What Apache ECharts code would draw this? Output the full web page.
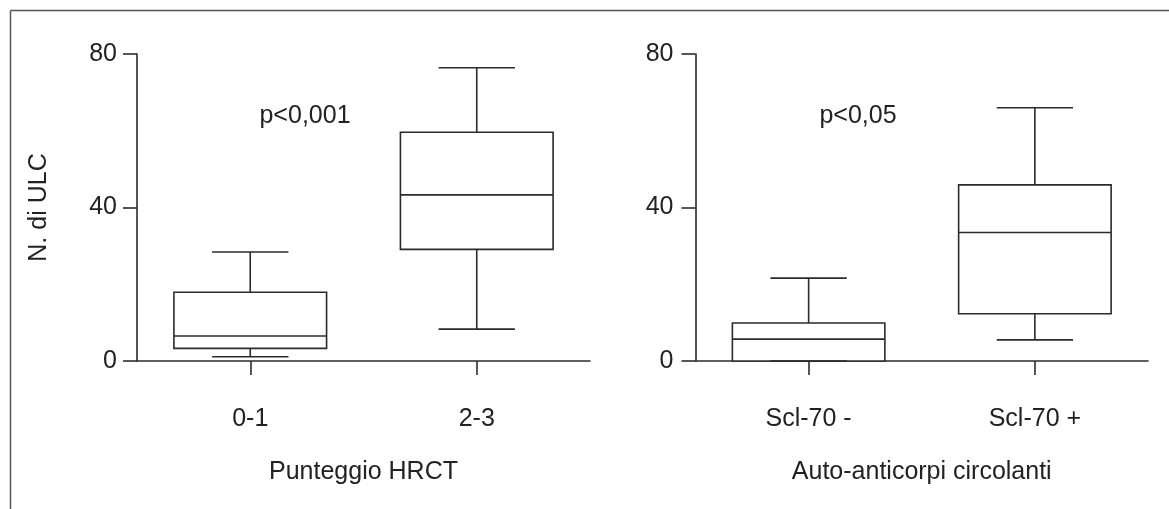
<!DOCTYPE html>
<html>
<head>
<meta charset="utf-8">
<script src="https://cdn.jsdelivr.net/npm/echarts@6/dist/echarts.min.js"></script>
<style>
html,body{margin:0;padding:0;background:#fff;}
#c{width:1169px;height:509px;}
</style>
</head>
<body>
<div id="c"></div>
<script>
// Left panel: Punteggio HRCT
const catsA = ['0-1', '2-3'];
const minA = [1.1, 8.3];
const q1A = [3.3, 29.1];
const medA = [6.5, 43.3];
const q3A = [17.9, 59.6];
const maxA = [28.4, 76.4];

// Right panel: Auto-anticorpi circolanti
const catsB = ['Scl-70 -', 'Scl-70 +'];
const minB = [0, 5.5];
const q1B = [0, 12.3];
const medB = [5.7, 33.5];
const q3B = [9.9, 45.9];
const maxB = [21.6, 66.0];

const yTicks = [0, 40, 80];
const yAxisName = 'N. di ULC';
const xNames = ['Punteggio HRCT', 'Auto-anticorpi circolanti'];
const pLabels = ['p<0,001', 'p<0,05'];

const INK = '#2b2b2b';
const FONT = 'Liberation Sans, Arial, Helvetica, sans-serif';
const FS = 25;

function rows(mn, q1, md, q3, mx) {
  return mn.map((v, i) => [i, mn[i], q1[i], md[i], q3[i], mx[i]]);
}

function renderBox(params, api) {
  const xi = api.value(0);
  const pMin = api.coord([xi, api.value(1)]);
  const pQ1 = api.coord([xi, api.value(2)]);
  const pMed = api.coord([xi, api.value(3)]);
  const pQ3 = api.coord([xi, api.value(4)]);
  const pMax = api.coord([xi, api.value(5)]);
  const band = api.size([1, 0])[0];
  const bw = band * 0.674;
  const cw = bw / 2;
  const cx = pMed[0];
  const st = { stroke: INK, lineWidth: 1.6, fill: null };
  return {
    type: 'group',
    children: [
      { type: 'rect', shape: { x: cx - bw / 2, y: pQ3[1], width: bw, height: pQ1[1] - pQ3[1] }, style: { stroke: INK, lineWidth: 1.6, fill: '#fff' } },
      { type: 'line', shape: { x1: cx - bw / 2, y1: pMed[1], x2: cx + bw / 2, y2: pMed[1] }, style: st },
      { type: 'line', shape: { x1: cx, y1: pQ3[1], x2: cx, y2: pMax[1] }, style: st },
      { type: 'line', shape: { x1: cx, y1: pQ1[1], x2: cx, y2: pMin[1] }, style: st },
      { type: 'line', shape: { x1: cx - cw / 2, y1: pMax[1], x2: cx + cw / 2, y2: pMax[1] }, style: st },
      { type: 'line', shape: { x1: cx - cw / 2, y1: pMin[1], x2: cx + cw / 2, y2: pMin[1] }, style: st }
    ]
  };
}

const axisLineStyle = { color: INK, width: 1.6 };

function xAxisOf(idx, cats, name) {
  return {
    type: 'category', gridIndex: idx, data: cats, boundaryGap: true,
    axisLine: { show: true, onZero: false, lineStyle: axisLineStyle },
    axisTick: { show: true, alignWithLabel: true, length: 14, lineStyle: axisLineStyle },
    axisLabel: { color: '#222', fontSize: FS, fontFamily: FONT, margin: 46 },
    name: name, nameLocation: 'middle', nameGap: 99,
    nameTextStyle: { color: '#222', fontSize: FS, fontFamily: FONT },
    splitLine: { show: false }
  };
}

function yAxisOf(idx, name, margin) {
  return {
    type: 'value', gridIndex: idx, min: yTicks[0], max: yTicks[yTicks.length - 1], interval: yTicks[1] - yTicks[0],
    axisLine: { show: true, lineStyle: axisLineStyle },
    axisTick: { show: true, length: 14, lineStyle: axisLineStyle },
    axisLabel: { color: '#222', fontSize: FS, fontFamily: FONT, margin: margin },
    splitLine: { show: false },
    name: name, nameLocation: 'middle', nameGap: 85, nameRotate: 90,
    nameTextStyle: { color: '#222', fontSize: FS, fontFamily: FONT }
  };
}

const chart = echarts.init(document.getElementById('c'), null, { renderer: 'canvas' });
chart.setOption({
  backgroundColor: '#fff',
  animation: false,
  grid: [
    { left: 137, right: 579, top: 54, bottom: 148 },
    { left: 695.5, right: 21, top: 54, bottom: 148 }
  ],
  xAxis: [xAxisOf(0, catsA, xNames[0]), xAxisOf(1, catsB, xNames[1])],
  yAxis: [yAxisOf(0, yAxisName, 20), yAxisOf(1, '', 22)],
  series: [
    { type: 'custom', xAxisIndex: 0, yAxisIndex: 0, renderItem: renderBox, data: rows(minA, q1A, medA, q3A, maxA), encode: { x: 0, y: [1, 2, 3, 4, 5] }, z: 1 },
    { type: 'custom', xAxisIndex: 1, yAxisIndex: 1, renderItem: renderBox, data: rows(minB, q1B, medB, q3B, maxB), encode: { x: 0, y: [1, 2, 3, 4, 5] }, z: 1 }
  ],
  graphic: [
    { type: 'line', shape: { x1: 10.5, y1: 10.5, x2: 1169, y2: 10.5 }, style: { stroke: '#555', lineWidth: 1.5 } },
    { type: 'line', shape: { x1: 10.5, y1: 10.5, x2: 10.5, y2: 509 }, style: { stroke: '#555', lineWidth: 1.5 } },
    { type: 'text', x: 305, y: 116, style: { text: pLabels[0], fill: '#222', font: FS + 'px ' + FONT, textAlign: 'center', textVerticalAlign: 'middle' } },
    { type: 'text', x: 858, y: 116, style: { text: pLabels[1], fill: '#222', font: FS + 'px ' + FONT, textAlign: 'center', textVerticalAlign: 'middle' } }
  ]
});
</script>
</body>
</html>
